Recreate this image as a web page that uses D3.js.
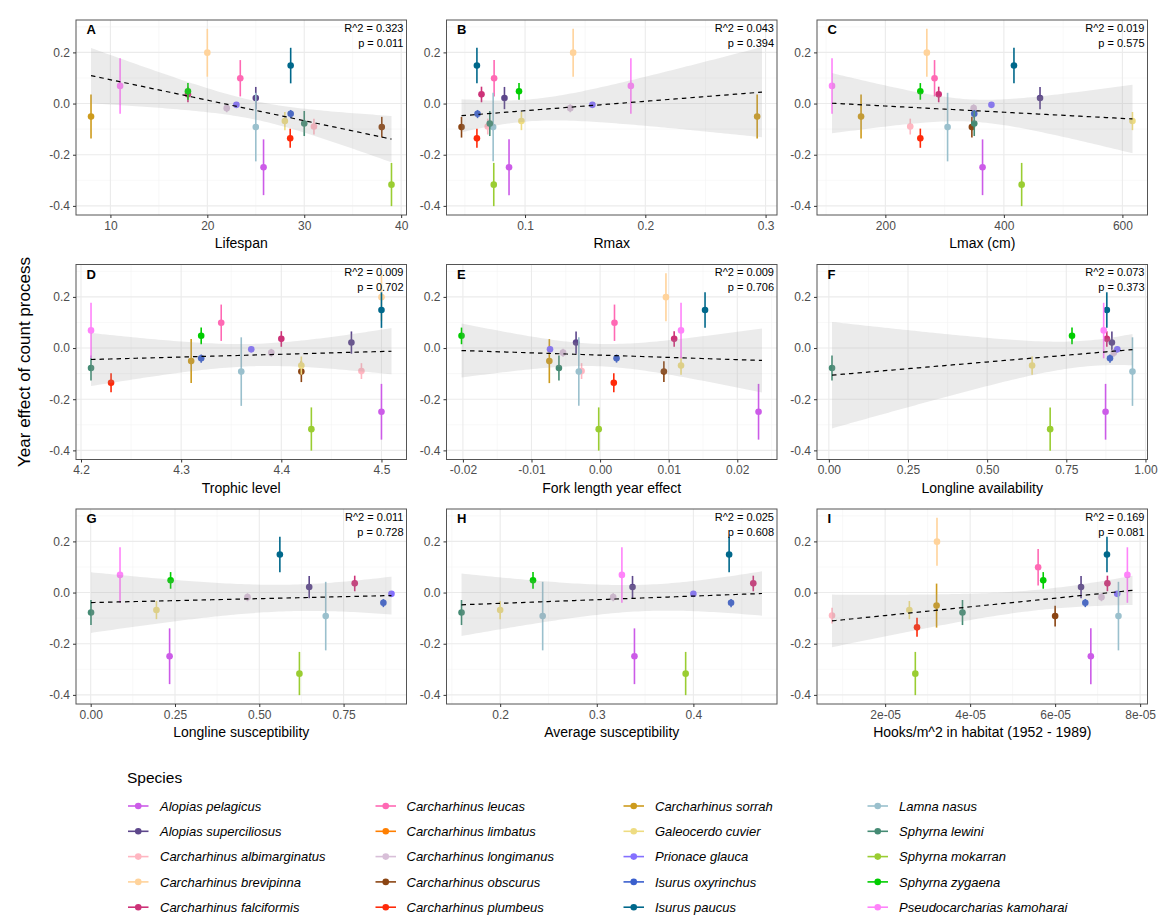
<!DOCTYPE html>
<html>
<head>
<meta charset="utf-8">
<script src="https://cdn.jsdelivr.net/npm/d3@7"></script>
<style>
  body { margin: 0; background: #fff; }
  text { font-family: "Liberation Sans", Arial, Helvetica, sans-serif; }
</style>
</head>
<body>
<svg id="chart" width="1160" height="915"></svg>
<script>
// Species, in legend order
const species = [
  "Alopias pelagicus", "Alopias superciliosus", "Carcharhinus albimarginatus",
  "Carcharhinus brevipinna", "Carcharhinus falciformis", "Carcharhinus leucas",
  "Carcharhinus limbatus", "Carcharhinus longimanus", "Carcharhinus obscurus",
  "Carcharhinus plumbeus", "Carcharhinus sorrah", "Galeocerdo cuvier",
  "Prionace glauca", "Isurus oxyrinchus", "Isurus paucus",
  "Lamna nasus", "Sphyrna lewini", "Sphyrna mokarran",
  "Sphyrna zygaena", "Pseudocarcharias kamoharai"
];
const speciesColors = [
  "#CC5BE8", "#5D478B", "#FFB6C1", "#FFD39B", "#CD3278", "#FF69B4", "#FF7F00",
  "#D8BFD8", "#8B4513", "#FF2A0A", "#CD9B1D", "#EEDC82", "#8470FF", "#3A5FCD",
  "#00688B", "#9AC0CD", "#458B74", "#9ACD32", "#00CD00", "#FF83FA"
];

// Year effect of count process (estimate and interval)
const yearEffect = [-0.249, 0.022, -0.090, 0.199, 0.036, 0.099, null, -0.018, -0.092, -0.136,
  -0.051, -0.068, -0.005, -0.040, 0.149, -0.092, -0.078, -0.317, 0.048, 0.069];
const ciLow = [-0.358, -0.022, -0.121, 0.105, 0.005, 0.028, null, -0.034, -0.133, -0.173,
  -0.137, -0.104, -0.016, -0.057, 0.079, -0.226, -0.127, -0.401, 0.015, -0.040];
const ciHigh = [-0.140, 0.065, -0.059, 0.292, 0.066, 0.170, null, -0.003, -0.052, -0.098,
  0.035, -0.033, 0.006, -0.025, 0.218, 0.042, -0.029, -0.232, 0.080, 0.177];

// Predictors, one value per species (null = not available)
const lifespan = [25.8, 25, 31, 20, 18, 23.4, null, 22, 38, 28.55,
  8, 28, 23, 28.6, 28.6, 25, 30, 39, 18, 11];
const rmax = [0.0867, 0.0829, 0.069, 0.140, 0.0638, 0.0743, 0.297, 0.1376, 0.0472, 0.060,
  0.293, 0.097, 0.156, 0.0605, 0.060, 0.0735, 0.0707, 0.074, 0.095, 0.188];
const lmax = [364, 461, 242, 270, 290, 283, null, 349, 346, 259,
  159, 617, 379, 350, 417, 305, 350, 430, 259, 110];
const trophicLevel = [4.5, 4.47, 4.48, 4.5, 4.4, 4.34, 4.51, 4.39, 4.42, 4.23,
  4.31, 4.42, 4.37, 4.32, 4.5, 4.36, 4.21, 4.43, 4.32, 4.21];
const forkLengthEffect = [0.0231, -0.0035, -0.0027, 0.0096, 0.0108, 0.0021, 0.0236, -0.0054, 0.0093, 0.0020,
  -0.0074, 0.0118, -0.0073, 0.0024, 0.0153, -0.0031, -0.0060, -0.0002, -0.0202, 0.0118];
const longlineAvailability = [0.874, 0.894, null, null, 0.878, null, null, 0.90, null, null,
  null, 0.642, 0.911, 0.888, 0.878, 0.959, 0.01, 0.699, 0.768, 0.868];
const longlineSusceptibility = [0.234, 0.648, null, null, 0.783, null, null, 0.465, null, null,
  null, 0.195, 0.892, 0.868, 0.561, 0.697, 0.001, 0.619, 0.237, 0.087];
const averageSusceptibility = [0.339, 0.337, null, null, 0.462, null, 0.471, 0.317, null, null,
  null, 0.200, 0.400, 0.439, 0.437, 0.244, 0.160, 0.392, 0.234, 0.326];
const hooksDensity = [6.84e-5, 6.61e-5, 0.75e-5, 3.22e-5, 7.23e-5, 5.60e-5, 7.82e-5, 7.09e-5, 6.00e-5, 2.75e-5,
  3.21e-5, 2.57e-5, 7.46e-5, 6.71e-5, 7.22e-5, 7.49e-5, 3.82e-5, 2.71e-5, 5.72e-5, 7.70e-5];

// Panels
const panelLetters = ["A", "B", "C", "D", "E", "F", "G", "H", "I"];
const xTitles = ["Lifespan", "Rmax", "Lmax (cm)", "Trophic level", "Fork length year effect",
  "Longline availability", "Longline susceptibility", "Average susceptibility",
  "Hooks/m^2 in habitat (1952 - 1989)"];
const r2Labels = ["0.323", "0.043", "0.019", "0.009", "0.009", "0.073", "0.011", "0.025", "0.169"];
const pLabels = ["0.011", "0.394", "0.575", "0.702", "0.706", "0.373", "0.728", "0.608", "0.081"];
const xTickValues = [[10, 20, 30, 40], [0.1, 0.2, 0.3], [200, 400, 600], [4.2, 4.3, 4.4, 4.5],
  [-0.02, -0.01, 0, 0.01, 0.02], [0, 0.25, 0.5, 0.75, 1], [0, 0.25, 0.5, 0.75], [0.2, 0.3, 0.4],
  [2e-5, 4e-5, 6e-5, 8e-5]];
const xTickLabels = [["10", "20", "30", "40"], ["0.1", "0.2", "0.3"], ["200", "400", "600"],
  ["4.2", "4.3", "4.4", "4.5"], ["-0.02", "-0.01", "0.00", "0.01", "0.02"],
  ["0.00", "0.25", "0.50", "0.75", "1.00"], ["0.00", "0.25", "0.50", "0.75"], ["0.2", "0.3", "0.4"],
  ["2e-05", "4e-05", "6e-05", "8e-05"]];
const yTickValues = [-0.4, -0.2, 0, 0.2];
const yTickLabels = ["-0.4", "-0.2", "0.0", "0.2"];

const predictors = [lifespan, rmax, lmax, trophicLevel, forkLengthEffect,
  longlineAvailability, longlineSusceptibility, averageSusceptibility, hooksDensity];

const svg = d3.select("#chart");
svg.append("rect").attr("width", 1160).attr("height", 915).attr("fill", "#fff");

const colLeft = [76, 446.5, 817];
const rowTop = [20, 264.5, 509];
const panelW = 330.5;
const panelH = 195;

// ggplot style 5% expansion
function expand(ext) {
  const d = (ext[1] - ext[0]) * 0.05;
  return [ext[0] - d, ext[1] + d];
}

// 97.5% t quantile (Cornish-Fisher)
function tQuantile(df) {
  const z = 1.959964;
  return z + (z ** 3 + z) / (4 * df) +
    (5 * z ** 5 + 16 * z ** 3 + 3 * z) / (96 * df ** 2) +
    (3 * z ** 7 + 19 * z ** 5 + 17 * z ** 3 - 15 * z) / (384 * df ** 3);
}

// weighted least squares
function fitLm(xs, ys, ws) {
  const n = xs.length;
  const sw = d3.sum(ws);
  const mx = d3.sum(xs.map((x, i) => x * ws[i])) / sw;
  const my = d3.sum(ys.map((y, i) => y * ws[i])) / sw;
  let sxx = 0, sxy = 0;
  xs.forEach((x, i) => { sxx += ws[i] * (x - mx) ** 2; sxy += ws[i] * (x - mx) * (ys[i] - my); });
  const b = sxy / sxx, a = my - b * mx;
  let sse = 0;
  xs.forEach((x, i) => { sse += ws[i] * (ys[i] - a - b * x) ** 2; });
  const s2 = sse / (n - 2);
  const t = tQuantile(n - 2);
  return x => {
    const fit = a + b * x;
    const se = Math.sqrt(s2 * (1 / sw + (x - mx) ** 2 / sxx));
    return { fit, lo: fit - t * se, hi: fit + t * se };
  };
}

const yDomain = expand([d3.min(ciLow), d3.max(ciHigh)]);

predictors.forEach((xv, p) => {
  const left = colLeft[p % 3];
  const top = rowTop[Math.floor(p / 3)];
  const g = svg.append("g").attr("transform", `translate(${left},${top})`);

  const allX = xv.filter(v => v != null);
  const xDomain = expand(d3.extent(allX));
  const x = d3.scaleLinear().domain(xDomain).range([0, panelW]);
  const y = d3.scaleLinear().domain(yDomain).range([panelH, 0]);

  // minor breaks halfway between majors
  const ticks = xTickValues[p];
  const step = ticks[1] - ticks[0];
  const xMinor = [ticks[0] - step / 2].concat(ticks.map(t => t + step / 2))
    .filter(v => v > xDomain[0] && v < xDomain[1]);
  const yMinor = [-0.5, -0.3, -0.1, 0.1, 0.3].filter(v => v > yDomain[0] && v < yDomain[1]);

  g.selectAll(".xminor").data(xMinor).join("line")
    .attr("x1", d => x(d)).attr("x2", d => x(d)).attr("y1", 0).attr("y2", panelH)
    .attr("stroke", "#f4f4f4").attr("stroke-width", 0.6);
  g.selectAll(".yminor").data(yMinor).join("line")
    .attr("y1", d => y(d)).attr("y2", d => y(d)).attr("x1", 0).attr("x2", panelW)
    .attr("stroke", "#f4f4f4").attr("stroke-width", 0.6);
  g.selectAll(".xmajor").data(ticks).join("line")
    .attr("x1", d => x(d)).attr("x2", d => x(d)).attr("y1", 0).attr("y2", panelH)
    .attr("stroke", "#ebebeb").attr("stroke-width", 1.1);
  g.selectAll(".ymajor").data(yTickValues).join("line")
    .attr("y1", d => y(d)).attr("y2", d => y(d)).attr("x1", 0).attr("x2", panelW)
    .attr("stroke", "#ebebeb").attr("stroke-width", 1.1);

  // points with intervals
  const pts = species.map((s, i) => ({ i, x: xv[i], y: yearEffect[i], lo: ciLow[i], hi: ciHigh[i] }))
    .filter(d => d.x != null && d.y != null);

  const pr = g.selectAll(".pr").data(pts).join("g");
  pr.append("line")
    .attr("x1", d => x(d.x)).attr("x2", d => x(d.x))
    .attr("y1", d => y(d.lo)).attr("y2", d => y(d.hi))
    .attr("stroke", d => speciesColors[d.i]).attr("stroke-width", 1.6);
  pr.append("circle")
    .attr("cx", d => x(d.x)).attr("cy", d => y(d.y)).attr("r", 3.3)
    .attr("fill", d => speciesColors[d.i]);

  // linear fit (weights = 1 / se) with 95% band over the range of x
  const weights = pts.map(d => 1 / ((d.hi - d.lo) / 3.92));
  const model = fitLm(pts.map(d => d.x), pts.map(d => d.y), weights);
  const xr = d3.extent(allX);
  const grid = d3.range(81).map(k => xr[0] + (xr[1] - xr[0]) * k / 80).map(v => ({ x: v, ...model(v) }));

  g.append("path").datum(grid)
    .attr("d", d3.area().x(d => x(d.x)).y0(d => y(d.lo)).y1(d => y(d.hi)))
    .attr("fill", "#999999").attr("fill-opacity", 0.2);
  g.append("path").datum(grid)
    .attr("d", d3.line().x(d => x(d.x)).y(d => y(d.fit)))
    .attr("fill", "none").attr("stroke", "#000").attr("stroke-width", 1.2)
    .attr("stroke-dasharray", "4.5,4");

  // border
  g.append("rect").attr("width", panelW).attr("height", panelH)
    .attr("fill", "none").attr("stroke", "#555").attr("stroke-width", 1);

  // axes
  const xAxis = d3.axisBottom(x).tickValues(ticks).tickSize(3).tickPadding(3)
    .tickFormat((d, k) => xTickLabels[p][k]);
  const gx = g.append("g").attr("transform", `translate(0,${panelH})`).call(xAxis);
  const yAxis = d3.axisLeft(y).tickValues(yTickValues).tickSize(3).tickPadding(3)
    .tickFormat((d, k) => yTickLabels[k]);
  const gy = g.append("g").call(yAxis);
  [gx, gy].forEach(a => {
    a.select(".domain").remove();
    a.selectAll(".tick line").attr("stroke", "#333");
    a.selectAll(".tick text").attr("fill", "#4d4d4d").style("font-size", "12px");
  });

  g.append("text").attr("x", panelW / 2).attr("y", panelH + 33)
    .attr("text-anchor", "middle").style("font-size", "14px").attr("fill", "#000")
    .text(xTitles[p]);

  g.append("text").attr("x", 10.5).attr("y", 14.3)
    .style("font-size", "13px").style("font-weight", "bold").text(panelLetters[p]);
  g.append("text").attr("x", panelW - 3).attr("y", 11.5).attr("text-anchor", "end")
    .style("font-size", "11px").text(`R^2 = ${r2Labels[p]}`);
  g.append("text").attr("x", panelW - 3).attr("y", 26.5).attr("text-anchor", "end")
    .style("font-size", "11px").text(`p = ${pLabels[p]}`);
});

// shared y title
svg.append("text")
  .attr("transform", "translate(30,362) rotate(-90)")
  .attr("text-anchor", "middle").style("font-size", "17px")
  .text("Year effect of count process");

// legend
svg.append("text").attr("x", 127).attr("y", 783).style("font-size", "15.5px").text("Species");
const keyX = [128, 375.5, 623.5, 867.5];
const labelX = [160, 406.5, 655, 899];
const legend = svg.selectAll(".leg").data(species).join("g")
  .attr("transform", (d, i) => `translate(${keyX[Math.floor(i / 5)]},${806 + (i % 5) * 25.3})`);
legend.append("line").attr("x1", 0).attr("x2", 20.5)
  .attr("stroke", (d, i) => speciesColors[i]).attr("stroke-width", 1.6);
legend.append("circle").attr("cx", 10.25).attr("r", 3.3).attr("fill", (d, i) => speciesColors[i]);
legend.append("text")
  .attr("x", (d, i) => labelX[Math.floor(i / 5)] - keyX[Math.floor(i / 5)])
  .attr("y", 4.6).style("font-size", "13px").style("font-style", "italic")
  .text(d => d);
</script>
</body>
</html>
